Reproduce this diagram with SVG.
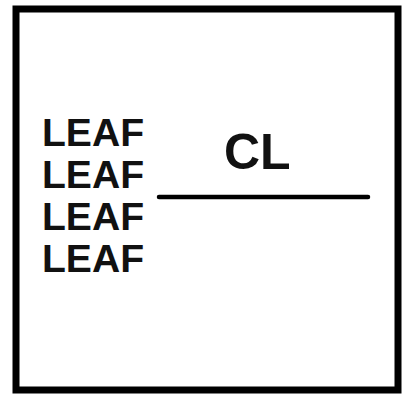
<svg xmlns="http://www.w3.org/2000/svg" width="404" height="394" viewBox="0 0 404 394">
<style>
.t{font-family:"Liberation Sans",Arial,sans-serif;font-weight:bold;fill:#111}
.leaf{font-size:38px}
.cl{font-size:50px}
</style>
<rect x="0" y="0" width="404" height="394" fill="#fff"/>
<g id="frame"><rect x="16" y="9" width="382" height="381" fill="#fff" stroke="#000" stroke-width="7"/></g>
<g id="leaves">
<text class="t leaf" x="42" y="146" textLength="102" lengthAdjust="spacingAndGlyphs">LEAF</text>
<text class="t leaf" x="42" y="188" textLength="102" lengthAdjust="spacingAndGlyphs">LEAF</text>
<text class="t leaf" x="42" y="230" textLength="102" lengthAdjust="spacingAndGlyphs">LEAF</text>
<text class="t leaf" x="42" y="272" textLength="102" lengthAdjust="spacingAndGlyphs">LEAF</text>
</g>
<g id="cl"><text class="t cl" x="224" y="169">CL</text></g>
<g id="connectors"><line x1="159" y1="197" x2="368" y2="197" stroke="#000" stroke-width="4.5" stroke-linecap="round"/></g>
</svg>
